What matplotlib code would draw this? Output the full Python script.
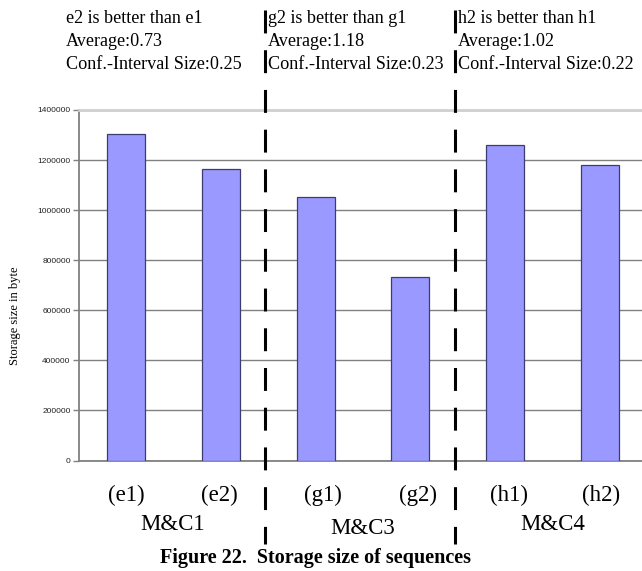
import numpy as np
from matplotlib import pyplot as plt
from matplotlib import transforms

# data
categories = ["(e1)", "(e2)", "(g1)", "(g2)", "(h1)", "(h2)"]
sizes = [1305000, 1165000, 1054000, 733000, 1259000, 1179000]
groups = ["M&C1", "M&C3", "M&C4"]
notes = [
    "e2 is better than e1\nAverage:0.73\nConf.-Interval Size:0.25",
    "g2 is better than g1\nAverage:1.18\nConf.-Interval Size:0.23",
    "h2 is better than h1\nAverage:1.02\nConf.-Interval Size:0.22",
]
yticks = [0, 200000, 400000, 600000, 800000, 1000000, 1200000, 1400000]

W, H = 642, 571
serif = "Liberation Serif"
sans = "Liberation Sans"

def fx(px): return px / W
def fy(py): return 1 - py / H

fig = plt.figure(figsize=(W / 100, H / 100), dpi=100)
ax = fig.add_axes([fx(79), fy(460.5), 568 / W, 350.5 / H])

x = np.arange(len(categories))
ax.bar(x, sizes, width=0.4, color="#9999ff", edgecolor="#3c3c6e", linewidth=0.9, zorder=3)

ax.set_xlim(-0.5, len(categories) - 0.5)
ax.set_ylim(0, 1400000)
ax.set_yticks(yticks)
ax.set_yticklabels([str(v) for v in yticks], fontfamily=sans, fontsize=6, color="#222222")
ax.set_xticks([])
ax.tick_params(axis="y", length=4, width=1, color="#808080", pad=2)
ax.grid(axis="y", color="#808080", linewidth=1, zorder=1)
for s in ["left", "bottom"]:
    ax.spines[s].set_color("#808080")
    ax.spines[s].set_linewidth(1.3)
ax.spines["top"].set_color("#d0d0d0")
ax.spines["top"].set_linewidth(2)
ax.spines["right"].set_visible(False)

ax.set_ylabel("Storage size in byte", fontfamily=serif, fontsize=9)
ax.yaxis.set_label_coords(fx(14) - fx(79), (fy(316) - fy(460.5)) / (350.5 / H))

# dashed separators between the groups
trans = transforms.blended_transform_factory(ax.transData, fig.transFigure)
for sx in [1.46, 3.47]:
    ax.plot([sx, sx], [fy(10), fy(544)], transform=trans, color="black",
            linewidth=2.2, dashes=(7.5, 5.5), clip_on=False, zorder=5)

# category labels under the bars
label_shift = [0, -0.02, 0.08, 0.08, 0.04, 0.02]
for i, lab in enumerate(categories):
    ax.text(i + label_shift[i], fy(495), lab, transform=trans, ha="center", va="center",
            fontfamily=serif, fontsize=16.5)

group_x = [173, 363, 553]
group_y = [525, 528, 525]
for g, gx, gy in zip(groups, group_x, group_y):
    fig.text(fx(gx), fy(gy), g, ha="center", va="center", fontfamily=serif, fontsize=16.5)

note_x = [66, 268, 458]
for n, nx in zip(notes, note_x):
    fig.text(fx(nx), fy(10), n, ha="left", va="top", fontfamily=serif, fontsize=13.1,
             linespacing=1.47)

fig.text(fx(315), fy(558), "Figure 22.  Storage size of sequences", ha="center", va="center",
         fontfamily=serif, fontsize=14.5, fontweight="bold")

fig.savefig("out.png", dpi=100)
